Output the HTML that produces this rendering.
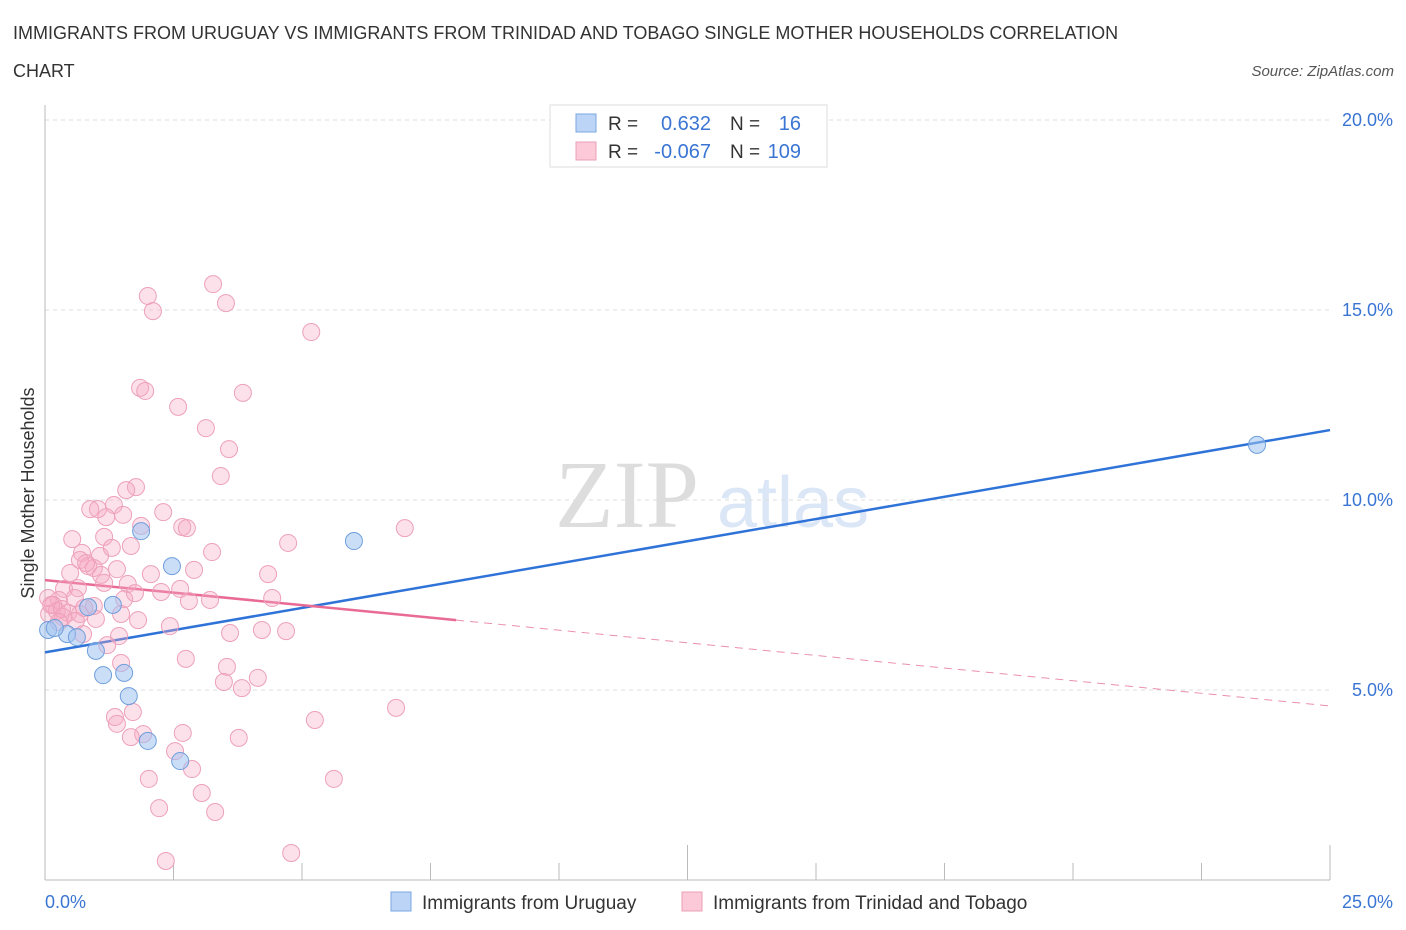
<!DOCTYPE html>
<html><head><meta charset="utf-8">
<style>
body{margin:0;background:#fff;font-family:"Liberation Sans",sans-serif;}
svg{display:block}
</style></head>
<body>
<svg id="chart" width="1406" height="930" xmlns="http://www.w3.org/2000/svg">
<text x="13" y="39" font-size="18" fill="#333">IMMIGRANTS FROM URUGUAY VS IMMIGRANTS FROM TRINIDAD AND TOBAGO SINGLE MOTHER HOUSEHOLDS CORRELATION</text>
<text x="13" y="77" font-size="18" fill="#333">CHART</text>
<text x="1394" y="76" font-size="15" fill="#555" text-anchor="end" font-style="italic">Source: ZipAtlas.com</text>
<text x="555" y="527" font-size="96" fill="#ddd" font-family="Liberation Serif,serif">ZIP</text>
<text x="717" y="527" font-size="72" fill="#dbe7f6">atlas</text>
<g id="grid"></g>
<g id="axes"></g>
<g id="lines"></g>
<g id="points"></g>
<text transform="translate(34,493) rotate(-90)" font-size="18" fill="#333" text-anchor="middle">Single Mother Households</text>
<g>
<rect x="550" y="105" width="277" height="62" fill="#fff" stroke="#ddd"/>
<rect x="576" y="114" width="20" height="18" fill="#bcd5f7" stroke="#7ba6e0"/>
<rect x="576" y="142" width="20" height="18" fill="#fbc9d8" stroke="#ec9fb8"/>
<text x="608" y="130" font-size="19" fill="#333">R = </text><text x="711" y="130" font-size="20" fill="#3a75d4" text-anchor="end">0.632</text>
<text x="730" y="130" font-size="19" fill="#333">N = </text><text x="801" y="130" font-size="20" fill="#3a75d4" text-anchor="end">16</text>
<text x="608" y="158" font-size="19" fill="#333">R = </text><text x="711" y="158" font-size="20" fill="#3a75d4" text-anchor="end">-0.067</text>
<text x="730" y="158" font-size="19" fill="#333">N = </text><text x="801" y="158" font-size="20" fill="#3a75d4" text-anchor="end">109</text>
</g>
<g>
<rect x="391" y="892" width="20" height="19" fill="#bcd5f7" stroke="#7ba6e0"/>
<text x="422" y="909" font-size="19" fill="#333">Immigrants from Uruguay</text>
<rect x="682" y="892" width="20" height="19" fill="#fbc9d8" stroke="#ec9fb8"/>
<text x="713" y="909" font-size="19" fill="#333">Immigrants from Trinidad and Tobago</text>
</g>
</svg>
<script>
const yTicks=[5,10,15,20];
const yTickLabels=["5.0%","10.0%","15.0%","20.0%"];
const xTickLabels=["0.0%","25.0%"];
const blueX=[23.58,6.01,2.47,1.87,1.32,0.84,0.43,0.62,0.99,1.13,1.54,1.63,2.00,2.63,0.06,0.19];
const blueY=[11.45,8.92,8.26,9.18,7.24,7.18,6.47,6.39,6.03,5.39,5.45,4.84,3.66,3.13,6.58,6.63];
const pinkX=[3.27,2.00,3.52,2.10,5.18,1.85,1.95,3.85,2.59,3.13,3.58,3.42,1.77,1.58,1.34,0.88,1.03,2.30,1.52,1.19,1.87,2.67,2.76,7.00,0.53,1.15,4.73,1.67,3.25,0.72,1.07,0.68,0.84,0.95,1.40,2.90,0.49,2.06,4.34,1.09,1.61,2.63,0.37,0.64,2.26,1.75,0.06,0.27,2.80,3.21,4.42,1.54,0.16,0.95,0.23,0.45,0.68,0.08,1.48,0.35,0.99,0.60,2.43,1.81,3.60,4.22,4.69,0.74,1.44,1.21,2.74,1.48,3.54,3.48,4.14,3.83,6.83,1.36,1.40,5.25,1.71,2.68,1.91,1.67,3.77,2.53,2.02,2.86,5.62,3.05,2.22,3.31,2.35,4.79,0.12,0.33,0.27,0.80,1.30,1.15,0.76,0.58];
const pinkY=[15.68,15.37,15.18,14.97,14.42,12.95,12.87,12.82,12.45,11.89,11.34,10.63,10.34,10.26,9.87,9.76,9.76,9.68,9.61,9.55,9.32,9.29,9.26,9.26,8.97,9.03,8.87,8.79,8.63,8.61,8.53,8.42,8.26,8.21,8.18,8.16,8.08,8.05,8.05,8.03,7.79,7.66,7.66,7.68,7.58,7.55,7.42,7.37,7.34,7.37,7.42,7.39,7.24,7.21,7.08,7.03,7.00,7.00,7.00,6.92,6.87,6.82,6.68,6.84,6.50,6.58,6.55,6.47,6.42,6.18,5.82,5.71,5.61,5.21,5.32,5.05,4.53,4.29,4.11,4.21,4.42,3.87,3.84,3.76,3.74,3.39,2.66,2.92,2.66,2.29,1.89,1.79,0.50,0.71,7.24,7.13,6.79,8.34,8.74,7.82,7.16,7.42];
const blueLine=[[0,5.99],[25,11.84]];
const pinkSolid=[[0,7.89],[8.0,6.84]];
const pinkDash=[[8.0,6.84],[25,4.58]];
const NS="http://www.w3.org/2000/svg";
const xs=v=>45+v/25*1285;
const ys=v=>880-v*38;
function mk(parent,tag,attrs){const e=document.createElementNS(NS,tag);for(const k in attrs)e.setAttribute(k,attrs[k]);document.getElementById(parent).appendChild(e);return e;}
yTicks.forEach((t,i)=>{
 const l=mk('grid','line',{x1:45,x2:1330,y1:ys(t),y2:ys(t),stroke:'#ddd','stroke-dasharray':'4,4'});
 
 
 const tx=mk('grid','text',{x:1393,y:ys(t)+6,'font-size':18,fill:'#3a75d4','text-anchor':'end'});
 tx.textContent=yTickLabels[i];
 
 
});
const ax=mk('axes','line',{x1:45,x2:45,y1:105,y2:880,stroke:'#bbb'});


const bx=mk('axes','line',{x1:45,x2:1330,y1:880,y2:880,stroke:'#bbb'});


for(let i=1;i<=10;i++){
 const v=i*2.5;const long=(i%5==0);
 const t=mk('axes','line',{x1:xs(v),x2:xs(v),y1:long?845:863,y2:880,stroke:'#bbb'});
 
 
}
[[0,'start'],[25,'end']].forEach((p,i)=>{
 const t=mk('axes','text',{x:i?1393:45,y:908,'font-size':18,fill:'#3a75d4','text-anchor':p[1]});
 t.textContent=xTickLabels[i];
 
 
});
pinkX.forEach((x,i)=>{
 const c=mk('points','circle',{cx:xs(x),cy:ys(pinkY[i]),r:8.5,fill:'rgba(247,170,195,0.35)',stroke:'#eda0ba','stroke-width':1});
 
 
});
blueX.forEach((x,i)=>{
 const c=mk('points','circle',{cx:xs(x),cy:ys(blueY[i]),r:8.5,fill:'rgba(160,195,240,0.55)',stroke:'#6f9fdc','stroke-width':1});
 
 
});
const bl=mk('lines','line',{x1:xs(blueLine[0][0]),y1:ys(blueLine[0][1]),x2:xs(blueLine[1][0]),y2:ys(blueLine[1][1]),stroke:'#2f73d8','stroke-width':2.5});


const ps=mk('lines','line',{x1:xs(pinkSolid[0][0]),y1:ys(pinkSolid[0][1]),x2:xs(pinkSolid[1][0]),y2:ys(pinkSolid[1][1]),stroke:'#e86a95','stroke-width':2.5});


const pd=mk('lines','line',{x1:xs(pinkDash[0][0]),y1:ys(pinkDash[0][1]),x2:xs(pinkDash[1][0]),y2:ys(pinkDash[1][1]),stroke:'#eb8fae','stroke-width':1,'stroke-dasharray':'8,6'});


</script>
</body></html>
